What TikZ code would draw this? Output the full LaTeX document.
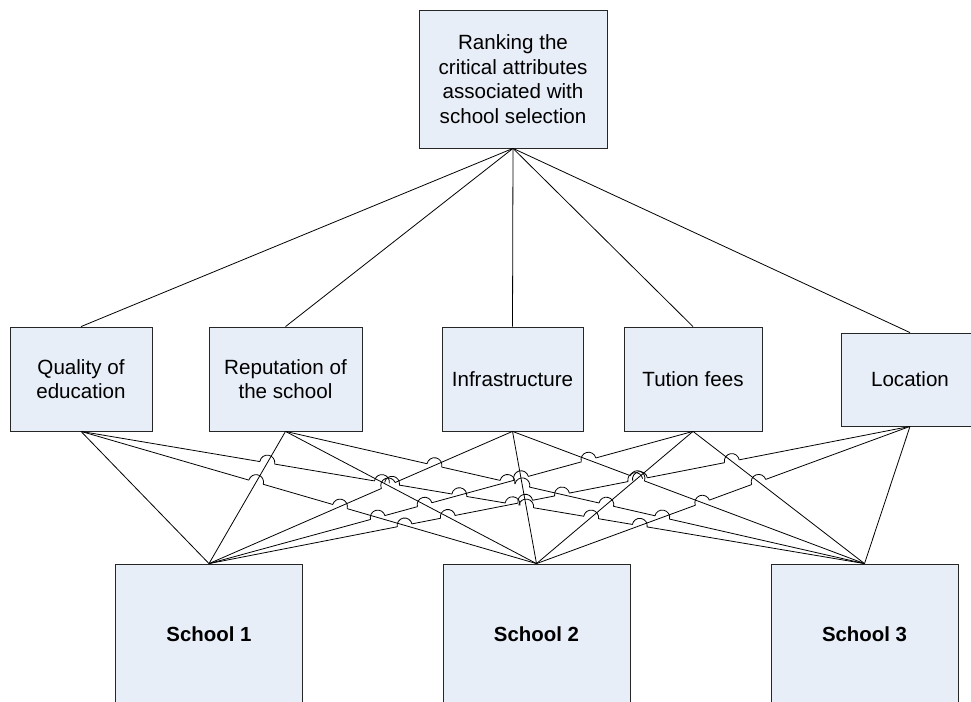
\documentclass[tikz,border=0pt]{standalone}
\usepackage{fontspec}
\setmainfont{Liberation Sans}
\definecolor{boxfill}{RGB}{232,238,247}
\tikzstyle{goalbox} = [rectangle, minimum width=188pt, minimum height=138pt,
text centered, align=center, draw=black!85, line width=0.8pt, fill=boxfill,
font=\fontsize{20.6}{24.5}\selectfont]
\tikzstyle{attr} = [rectangle, minimum height=104pt, text centered,
align=center, draw=black!85, line width=0.8pt, fill=boxfill,
font=\fontsize{20.6}{24.5}\selectfont]
\tikzstyle{school} = [rectangle, minimum width=187pt, minimum height=140pt,
text centered, draw=black!85, line width=0.8pt, fill=boxfill,
font=\bfseries\fontsize{20.4}{24.5}\selectfont]
\tikzstyle{link} = [line width=0.8pt]

% link end points /100, for the line hops
\def\ax{{0.81,2.855,5.125,6.93,9.10}}
\def\ay{{2.70,2.70,2.70,2.70,2.75}}
\def\bx{{2.09,5.365,8.645}}
\def\by{1.37}

\begin{document}
\begin{tikzpicture}[x=1pt, y=1pt]
\useasboundingbox (0,0) rectangle (971,701);
\clip (0,0) rectangle (971,701);

\node(goal)[goalbox] at (513,622) {Ranking the\\critical attributes\\associated with\\school selection};
\node(qual)[attr, minimum width=142pt] at (81,322) {Quality of\\education};
\node(rep)[attr, minimum width=153pt] at (285.5,322) {Reputation of\\the school};
\node(infra)[attr, minimum width=141pt] at (512.5,322) {Infrastructure};
\node(fees)[attr, minimum width=138pt] at (693,322) {Tution fees};
\node(loc)[attr, minimum width=138pt, minimum height=93pt] at (910,321.5) {Location};
\node(s1)[school] at (209,67) {School 1};
\node(s2)[school] at (536.5,67) {School 2};
\node(s3)[school] at (864.5,67) {School 3};

\foreach \a in {qual,rep,infra,fees,loc}
  \draw[link](goal.south) -- (\a.north);

% attribute -> school, the flatter line hops
\foreach \i/\a in {0/qual,1/rep,2/infra,3/fees,4/loc}{
  \foreach \j/\s in {0/s1,1/s2,2/s3}{
    \gdef\hopclips{}\gdef\hoparcs{}
    \foreach \k in {0,...,4}{
      \foreach \l in {0,1,2}{
        \pgfmathtruncatemacro\cross{(\i-\k)*(\j-\l)<0}
        \ifnum\cross=1
          \pgfmathsetmacro\dxa{\bx[\j]-\ax[\i]}
          \pgfmathsetmacro\dya{\by-\ay[\i]}
          \pgfmathsetmacro\dxb{\bx[\l]-\ax[\k]}
          \pgfmathsetmacro\dyb{\by-\ay[\k]}
          \pgfmathtruncatemacro\hop{abs(\dxa)>abs(\dxb)}
          \ifnum\hop=1
            \pgfmathsetmacro\tpar{((\ax[\k]-\ax[\i])*\dyb-(\ay[\k]-\ay[\i])*\dxb)/(\dxa*\dyb-\dya*\dxb)}
            \pgfmathsetmacro\px{100*(\ax[\i]+\tpar*\dxa)}
            \pgfmathsetmacro\py{100*(\ay[\i]+\tpar*\dya)}
            \pgfmathsetmacro\ang{\dxa>0 ? atan2(\dya,\dxa) : atan2(-(\dya),-(\dxa))}
            \pgfmathsetmacro\angb{\ang+180}
            \xdef\hopclips{\unexpanded\expandafter{\hopclips}\noexpand\clip (0,0) rectangle (971,701) (\px,\py) circle (7.5pt);}
            \xdef\hoparcs{\unexpanded\expandafter{\hoparcs}\noexpand\draw[link] (\px,\py) ++(\angb:7.5pt) arc[start angle=\angb, end angle=\ang, radius=7.5pt];}
          \fi
        \fi
      }
    }
    \begin{scope}[even odd rule]
      \hopclips
      \draw[link](\a.south) -- (\s.north);
    \end{scope}
    \hoparcs
  }
}

\end{tikzpicture}
\end{document}
